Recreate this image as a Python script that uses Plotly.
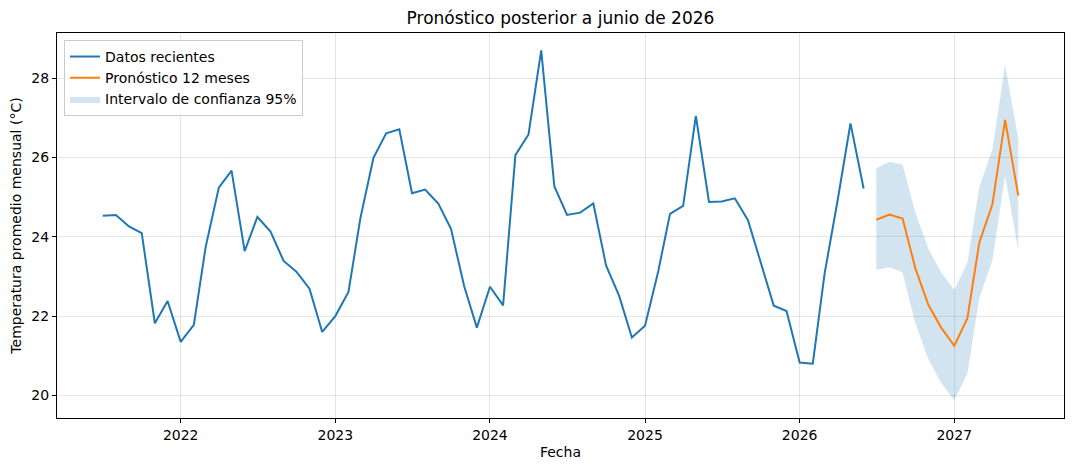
import pandas as pd
import plotly.graph_objects as go

# Datos recientes (mensual, 2021-07 a 2026-06)
fechas_hist = pd.date_range("2021-07-01", periods=60, freq="MS")
temp_hist = [
    24.53, 24.55, 24.26, 24.09, 21.82, 22.38, 21.35, 21.78, 23.75, 25.24, 25.67, 23.64,
    24.50, 24.13, 23.39, 23.12, 22.69, 21.60, 22.00, 22.61, 24.46, 25.99, 26.61, 26.71,
    25.10, 25.19, 24.84, 24.20, 22.76, 21.71, 22.74, 22.27, 26.06, 26.58, 28.70, 25.27,
    24.55, 24.61, 24.84, 23.28, 22.51, 21.46, 21.76, 23.12, 24.58, 24.78, 27.05, 24.88,
    24.89, 24.97, 24.42, 23.33, 22.26, 22.13, 20.83, 20.80, 23.08, 24.94, 26.86, 25.22,
]

# Pronóstico 12 meses (2026-07 a 2027-06)
fechas_pron = pd.date_range("2026-07-01", periods=12, freq="MS")
temp_pron = [24.43, 24.56, 24.46, 23.21, 22.28, 21.71, 21.25, 21.95, 23.85, 24.82, 26.95, 25.04]
ic_sup = [25.73, 25.89, 25.82, 24.62, 23.69, 23.10, 22.66, 23.35, 25.25, 26.21, 28.34, 26.47]
ic_inf = [23.16, 23.23, 23.10, 21.82, 20.91, 20.32, 19.87, 20.56, 22.45, 23.41, 25.54, 23.66]

ticks_anio = ["2022-01-01", "2023-01-01", "2024-01-01", "2025-01-01", "2026-01-01", "2027-01-01"]
ticks_anio_txt = ["2022", "2023", "2024", "2025", "2026", "2027"]
ticks_y = [20, 22, 24, 26, 28]

font = "DejaVu Sans"
fig = go.Figure()

fig.add_trace(go.Scatter(
    x=fechas_pron, y=ic_inf, mode="lines", line=dict(width=0, color="rgba(31,119,180,0)"),
    showlegend=False, hoverinfo="skip"))
fig.add_trace(go.Scatter(
    x=fechas_pron, y=ic_sup, mode="lines", line=dict(width=0, color="rgba(31,119,180,0)"),
    fill="tonexty", fillcolor="rgba(31,119,180,0.2)",
    name="Intervalo de confianza 95%", legendrank=3))
fig.add_trace(go.Scatter(
    x=fechas_hist, y=temp_hist, mode="lines", line=dict(color="#1f77b4", width=2),
    name="Datos recientes", legendrank=1))
fig.add_trace(go.Scatter(
    x=fechas_pron, y=temp_pron, mode="lines", line=dict(color="#ff7f0e", width=2),
    name="Pronóstico 12 meses", legendrank=2))

axis_common = dict(
    showline=True, linecolor="black", linewidth=1, mirror=True,
    ticks="outside", ticklen=4, tickcolor="black",
    showgrid=True, gridcolor="rgba(0,0,0,0.1)", gridwidth=1,
    zeroline=False, tickfont=dict(family=font, size=14, color="black"),
    automargin=False,
)

fig.update_xaxes(
    type="date", range=["2021-03-15", "2027-09-17"],
    tickvals=ticks_anio, ticktext=ticks_anio_txt,
    title=dict(text="Fecha", font=dict(family=font, size=14, color="black"), standoff=5),
    **axis_common)
fig.update_yaxes(
    range=[19.43, 29.14], tickvals=ticks_y,
    title=dict(text="Temperatura promedio mensual (°C)", font=dict(family=font, size=14, color="black"), standoff=7),
    **axis_common)

# La página añade 8 px de margen al cuerpo; se compensa en el tamaño y márgenes
fig.update_layout(
    width=1066, height=463,
    margin=dict(l=49, r=10, t=25, b=53),
    plot_bgcolor="white", paper_bgcolor="white",
    font=dict(family=font, size=14, color="black"),
    title=dict(text="Pronóstico posterior a junio de 2026", xref="paper", x=0.5, xanchor="center",
               y=0.978, yanchor="middle", font=dict(family=font, size=17, color="black")),
    legend=dict(x=0.007, y=0.982, xanchor="left", yanchor="top", traceorder="normal",
                bgcolor="rgba(255,255,255,0.8)", bordercolor="#cccccc", borderwidth=1,
                font=dict(family=font, size=14, color="black"),
                tracegroupgap=0, itemwidth=30),
    showlegend=True,
)

fig.write_html("out.html")
